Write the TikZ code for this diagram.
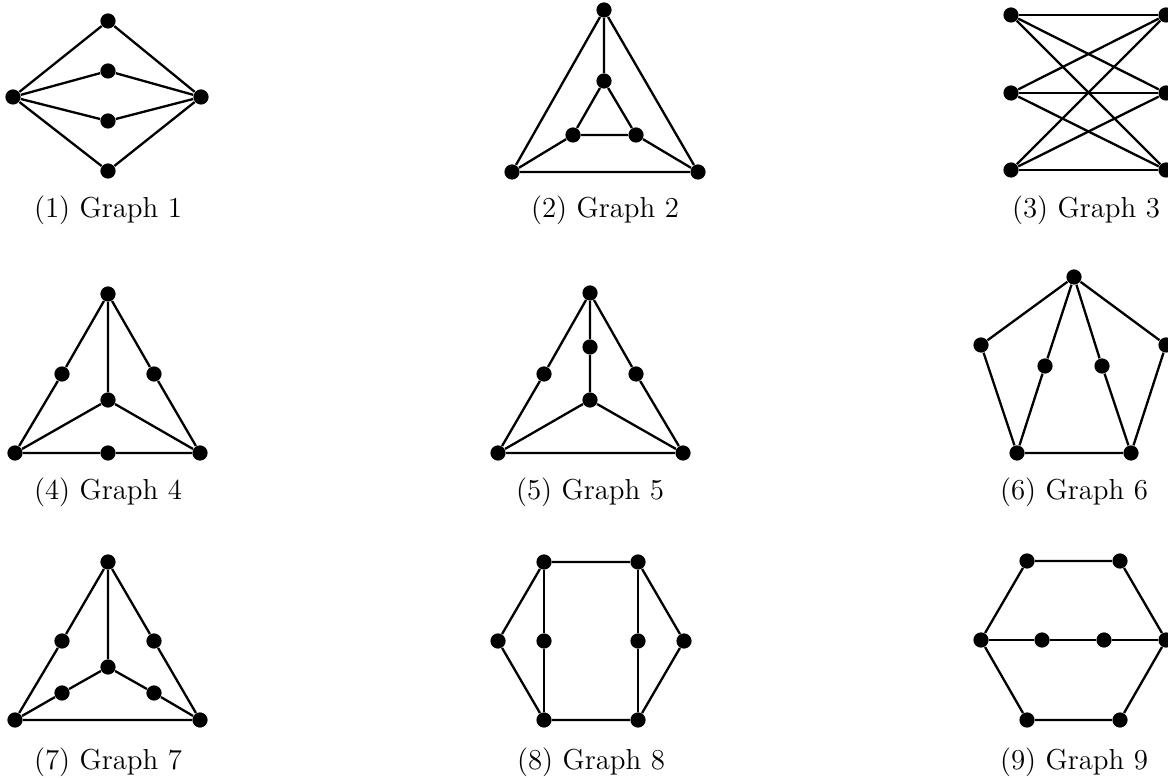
\documentclass[tikz,border=0pt]{standalone}
\begin{document}
\begin{tikzpicture}[x=0.3878pt,y=-0.3878pt,
  vtx/.style={circle,fill=black,inner sep=0pt,minimum size=5.9pt},
  edge/.style={line width=0.9pt},
  captxt/.style={anchor=base,inner sep=0pt,font=\fontsize{11.2pt}{13pt}\selectfont}]
\useasboundingbox (0,0) rectangle (1168,778);
% Graph 1
\node[vtx] (a1) at (108,21) {};
\node[vtx] (a2) at (108,71) {};
\node[vtx] (a3) at (108,121) {};
\node[vtx] (a4) at (108,171) {};
\node[vtx] (a5) at (13,97) {};
\node[vtx] (a6) at (201,97) {};
\foreach \v in {a1,a2,a3,a4}{\draw[edge] (a5)--(\v)--(a6);}
\node[captxt] (c1) at (108,218) {(1) Graph 1};
% Graph 2
\node[vtx] (b1) at (604,10) {};
\node[vtx] (b2) at (604,81) {};
\node[vtx] (b3) at (573,135) {};
\node[vtx] (b4) at (636,135) {};
\node[vtx] (b5) at (512,172) {};
\node[vtx] (b6) at (698,172) {};
\draw[edge] (b1)--(b5)--(b6)--(b1)--(b2);
\draw[edge] (b2)--(b3)--(b4)--(b2);
\draw[edge] (b3)--(b5) (b4)--(b6);
\node[captxt] (c2) at (605,218) {(2) Graph 2};
% Graph 3
\node[vtx] (d1) at (1011,15) {};
\node[vtx] (d2) at (1011,93) {};
\node[vtx] (d3) at (1011,170) {};
\node[vtx] (d4) at (1166,15) {};
\node[vtx] (d5) at (1166,93) {};
\node[vtx] (d6) at (1166,170) {};
\foreach \l in {d1,d2,d3}{\foreach \r in {d4,d5,d6}{\draw[edge] (\l)--(\r);}}
\node[captxt] (c3) at (1086,218) {(3) Graph 3};
% Graph 4
\node[vtx] (e1) at (108,294) {};
\node[vtx] (e2) at (62,374) {};
\node[vtx] (e3) at (154,374) {};
\node[vtx] (e4) at (108,400) {};
\node[vtx] (e5) at (15,453) {};
\node[vtx] (e6) at (108,453) {};
\node[vtx] (e7) at (200,453) {};
\draw[edge] (e1)--(e2)--(e5)--(e6)--(e7)--(e3)--(e1)--(e4);
\draw[edge] (e5)--(e4)--(e7);
\node[captxt] (c4) at (108,500) {(4) Graph 4};
% Graph 5
\node[vtx] (f1) at (590,293) {};
\node[vtx] (f2) at (590,347) {};
\node[vtx] (f3) at (590,400) {};
\node[vtx] (f4) at (544,374) {};
\node[vtx] (f5) at (636,374) {};
\node[vtx] (f6) at (498,453) {};
\node[vtx] (f7) at (683,453) {};
\draw[edge] (f1)--(f4)--(f6)--(f7)--(f5)--(f1)--(f2)--(f3);
\draw[edge] (f6)--(f3)--(f7);
\node[captxt] (c5) at (590,500) {(5) Graph 5};
% Graph 6
\node[vtx] (g1) at (1074,277) {};
\node[vtx] (g2) at (981,345) {};
\node[vtx] (g3) at (1166,345) {};
\node[vtx] (g4) at (1045,366) {};
\node[vtx] (g5) at (1102,366) {};
\node[vtx] (g6) at (1017,453) {};
\node[vtx] (g7) at (1131,453) {};
\draw[edge] (g1)--(g2)--(g6)--(g7)--(g3)--(g1);
\draw[edge] (g1)--(g4)--(g6) (g1)--(g5)--(g7);
\node[captxt] (c6) at (1074,500) {(6) Graph 6};
% Graph 7
\node[vtx] (h1) at (108,562) {};
\node[vtx] (h2) at (62,641) {};
\node[vtx] (h3) at (154,641) {};
\node[vtx] (h4) at (108,667) {};
\node[vtx] (h5) at (62,693) {};
\node[vtx] (h6) at (154,693) {};
\node[vtx] (h7) at (15,720) {};
\node[vtx] (h8) at (200,720) {};
\draw[edge] (h1)--(h2)--(h7)--(h8)--(h3)--(h1)--(h4);
\draw[edge] (h7)--(h5)--(h4)--(h6)--(h8);
\node[captxt] (c7) at (108,769) {(7) Graph 7};
% Graph 8
\node[vtx] (i1) at (544,562) {};
\node[vtx] (i2) at (638,562) {};
\node[vtx] (i3) at (498,641) {};
\node[vtx] (i4) at (544,641) {};
\node[vtx] (i5) at (638,641) {};
\node[vtx] (i6) at (684,641) {};
\node[vtx] (i7) at (544,720) {};
\node[vtx] (i8) at (638,720) {};
\draw[edge] (i1)--(i2)--(i6)--(i8)--(i7)--(i3)--(i1);
\draw[edge] (i1)--(i4)--(i7) (i2)--(i5)--(i8);
\node[captxt] (c8) at (591,769) {(8) Graph 8};
% Graph 9
\node[vtx] (j1) at (1027,561) {};
\node[vtx] (j2) at (1120,561) {};
\node[vtx] (j3) at (981,640) {};
\node[vtx] (j4) at (1042,640) {};
\node[vtx] (j5) at (1104,640) {};
\node[vtx] (j6) at (1166,640) {};
\node[vtx] (j7) at (1027,720) {};
\node[vtx] (j8) at (1120,720) {};
\draw[edge] (j1)--(j2)--(j6)--(j8)--(j7)--(j3)--(j1);
\draw[edge] (j3)--(j4)--(j5)--(j6);
\node[captxt] (c9) at (1074,769) {(9) Graph 9};
\end{tikzpicture}
\end{document}
